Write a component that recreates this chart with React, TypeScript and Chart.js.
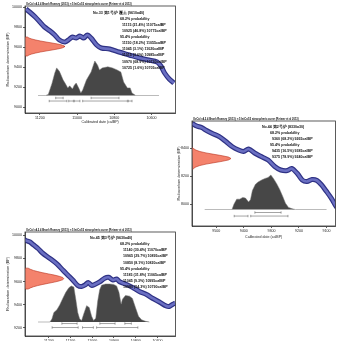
import React, { useEffect, useRef } from 'react';
import { Chart, registerables } from 'chart.js';
Chart.register(...registerables);

const TITLE = 'OxCal v4.2.4 Bronk Ramsey (2013); r:5 IntCal13 atmospheric curve (Reimer et al 2013)';
const X_TITLE = 'Calibrated date (calBP)';
const Y_TITLE = 'Radiocarbon determination (BP)';

// ---------- Panel 1 ----------
const p1XTicks = [11200, 11000, 10800, 10600];
const p1YTicks = [10000, 9800, 9600, 9400, 9200, 9000];
const p1CurveCal = [11275, 11255, 11225, 11200, 11175, 11145, 11120, 11095, 11065, 11040, 11025, 11005, 10985, 10965, 10945, 10925, 10895, 10870, 10825, 10775, 10720, 10665, 10615, 10570, 10550, 10530, 10505, 10480];
const p1CurveBP = [9980, 9950, 9900, 9850, 9800, 9760, 9720, 9670, 9650, 9680, 9700, 9690, 9710, 9690, 9720, 9690, 9620, 9590, 9580, 9550, 9520, 9490, 9470, 9450, 9410, 9340, 9280, 9240];
const p1SampleBP = [9700, 9690, 9680, 9670, 9660, 9650, 9640, 9630, 9620, 9610, 9600, 9590, 9580, 9570, 9560, 9550, 9540, 9530, 9520, 9510];
const p1SampleDensity = [0.06, 0.10, 0.17, 0.27, 0.39, 0.53, 0.68, 0.82, 0.93, 0.99, 0.99, 0.93, 0.82, 0.68, 0.53, 0.39, 0.27, 0.17, 0.10, 0.06];
const p1PostCal = [11210, 11170, 11155, 11135, 11120, 11110, 11095, 11075, 11065, 11050, 11040, 11025, 11015, 11005, 10990, 10980, 10970, 10950, 10925, 10905, 10890, 10880, 10865, 10835, 10810, 10785, 10765, 10750, 10730, 10715, 10705, 10685, 10560];
const p1PostProb = [0, 0, 0.03, 0.35, 0.65, 0.80, 0.70, 0.45, 0.36, 0.22, 0.28, 0.19, 0.30, 0.36, 0.20, 0.07, 0.16, 0.45, 0.68, 1.0, 0.88, 0.74, 0.80, 0.83, 0.80, 0.74, 0.68, 0.39, 0.22, 0.22, 0.07, 0, 0];
const p1Ranges68 = [[11115, 11075], [10925, 10775]];
const p1Ranges95 = [[11150, 11055], [11045, 11020], [11015, 10985], [10970, 10730], [10725, 10705]];
const p1Text = ['No.33 第1号炉 覆土 (9610±40)', '68.2% probability', '11115 (21.4%) 11075calBP', '10925 (46.8%) 10775calBP', '95.4% probability', '11150 (18.2%) 11055calBP', '11045 (3.1%) 11020calBP', '11015 (3.6%) 10985calBP', '10970 (68.9%) 10730calBP', '10725 (1.6%) 10705calBP'];

// ---------- Panel 2 ----------
const p2XTicks = [9500, 9400, 9300, 9200, 9100];
const p2YTicks = [8400, 8200, 8000];
const p2CurveCal = [9587, 9571, 9553, 9535, 9514, 9489, 9465, 9443, 9419, 9401, 9383, 9358, 9337, 9312, 9288, 9266, 9242, 9227, 9206, 9188, 9171, 9153, 9135, 9118, 9100, 9082, 9065, 9050];
const p2CurveBP = [8575, 8557, 8546, 8525, 8504, 8482, 8446, 8411, 8386, 8375, 8393, 8361, 8339, 8314, 8268, 8243, 8239, 8254, 8218, 8171, 8161, 8175, 8168, 8136, 8089, 8039, 7982, 7950];
const p2SampleBP = [8405, 8395, 8385, 8375, 8365, 8355, 8345, 8335, 8325, 8315, 8305, 8295, 8285, 8275, 8265, 8255, 8245];
const p2SampleDensity = [0.017, 0.044, 0.101, 0.203, 0.36, 0.563, 0.775, 0.938, 1, 0.938, 0.775, 0.563, 0.36, 0.203, 0.101, 0.044, 0.017];
const p2PostCal = [9542, 9443, 9436, 9426, 9415, 9404, 9394, 9383, 9376, 9369, 9358, 9348, 9334, 9323, 9312, 9302, 9291, 9281, 9270, 9259, 9249, 9238, 9224, 9213, 9100];
const p2PostProb = [0, 0, 0.15, 0.30, 0.30, 0.35, 0.33, 0.22, 0.28, 0.55, 0.73, 0.80, 0.86, 0.90, 0.93, 1.0, 0.88, 0.75, 0.58, 0.38, 0.18, 0.06, 0.02, 0, 0];
const p2Ranges68 = [[9360, 9265]];
const p2Ranges95 = [[9435, 9385], [9375, 9240]];
const p2Text = ['No.44 第2号炉 (8330±30)', '68.2% probability', '9360 (68.2%) 9265calBP', '95.4% probability', '9435 (16.5%) 9385calBP', '9375 (78.9%) 9240calBP'];

// ---------- Panel 3 ----------
const p3XTicks = [11200, 11100, 11000, 10900, 10800, 10700];
const p3YTicks = [10000, 9800, 9600, 9400, 9200];
const p3CurveCal = [11320, 11306, 11287, 11273, 11250, 11228, 11195, 11163, 11136, 11113, 11090, 11067, 11049, 11033, 11019, 11003, 10989, 10966, 10943, 10925, 10904, 10888, 10874, 10842, 10815, 10783, 10750, 10723, 10691, 10659, 10645, 10631, 10617];
const p3CurveBP = [9965, 9953, 9940, 9918, 9884, 9843, 9798, 9751, 9699, 9656, 9613, 9566, 9557, 9570, 9592, 9566, 9574, 9596, 9628, 9636, 9613, 9622, 9598, 9574, 9549, 9514, 9488, 9456, 9424, 9389, 9385, 9402, 9415];
const p3SampleBP = [9715, 9705, 9695, 9685, 9675, 9665, 9655, 9645, 9635, 9625, 9615, 9605, 9595, 9585, 9575, 9565, 9555, 9545, 9535];
const p3SampleDensity = [0.08, 0.14, 0.22, 0.33, 0.46, 0.61, 0.76, 0.88, 0.97, 1, 0.97, 0.88, 0.76, 0.61, 0.46, 0.33, 0.22, 0.14, 0.08];
const p3PostCal = [11250, 11195, 11186, 11177, 11163, 11150, 11136, 11122, 11108, 11097, 11085, 11076, 11067, 11058, 11049, 11039, 11026, 11014, 11003, 10994, 10984, 10975, 10966, 10957, 10939, 10920, 10902, 10888, 10877, 10867, 10861, 10847, 10828, 10815, 10801, 10787, 10773, 10755, 10737];
const p3PostProb = [0, 0, 0.08, 0.25, 0.32, 0.45, 0.62, 0.78, 0.90, 0.95, 0.92, 0.60, 0.25, 0.08, 0.04, 0.22, 0.43, 0.38, 0.15, 0.04, 0.10, 0.55, 0.85, 0.97, 1.0, 1.0, 0.99, 0.95, 0.78, 0.47, 0.60, 0.70, 0.68, 0.62, 0.38, 0.15, 0.06, 0.02, 0];
const p3Ranges68 = [[11140, 11070], [10965, 10895], [10850, 10820]];
const p3Ranges95 = [[11185, 11065], [11045, 10995], [10980, 10790]];
const p3Text = ['No.45 第3号炉 (9630±40)', '68.2% probability', '11140 (30.4%) 11070calBP', '10965 (29.7%) 10895calBP', '10850 (8.1%) 10820calBP', '95.4% probability', '11185 (31.8%) 11065calBP', '11045 (9.3%) 10995calBP', '10980 (54.3%) 10790calBP'];

const FONT = '"Liberation Sans", Arial, sans-serif';

const panels = [
  {
    key: 'p1', left: 0, top: 0, width: 180, height: 126, padTop: 6, padRight: 4, yWidth: 25, xHeight: 13,
    xMin: 10472, xMax: 11280, yMin: 8940, yMax: 10010, redMax: 3.775, probMin: -0.507, probMax: 2.594,
    b68: -0.072, b95: -0.16, yTitlePad: 5.2, xTitlePad: 1.8, showXTitle: true,
    tLabel: 68, tHead: 95, tLine: 97, tY0: 6.7, tDy: 6.1,
    xTicks: p1XTicks, yTicks: p1YTicks, curveCal: p1CurveCal, curveBP: p1CurveBP,
    sBP: p1SampleBP, sD: p1SampleDensity, pCal: p1PostCal, pProb: p1PostProb,
    r68: p1Ranges68, r95: p1Ranges95, text: p1Text,
  },
  {
    key: 'p2', left: 172, top: 115, width: 168, height: 126, padTop: 6, padRight: 1, yWidth: 20, xHeight: 15,
    xMin: 9068, xMax: 9588, yMin: 7843, yMax: 8593, redMax: 3.675, probMin: -0.478, probMax: 2.565,
    b68: -0.087, b95: -0.19, yTitlePad: 4.7, xTitlePad: 1.8, showXTitle: true,
    tLabel: 70, tHead: 78, tLine: 80, tY0: 5.5, tDy: 6,
    xTicks: p2XTicks, yTicks: p2YTicks, curveCal: p2CurveCal, curveBP: p2CurveBP,
    sBP: p2SampleBP, sD: p2SampleDensity, pCal: p2PostCal, pProb: p2PostProb,
    r68: p2Ranges68, r95: p2Ranges95, text: p2Text,
  },
  {
    key: 'p3', left: 0, top: 226, width: 180, height: 115, padTop: 6, padRight: 4, yWidth: 25, xHeight: 5,
    xMin: 10617, xMax: 11310, yMin: 9131, yMax: 10026, redMax: 3.87, probMin: -0.368, probMax: 2.368,
    b68: -0.04, b95: -0.145, yTitlePad: 5.2, xTitlePad: 1.8, showXTitle: false,
    tLabel: 65, tHead: 95, tLine: 98, tY0: 6.3, tDy: 6.05,
    xTicks: p3XTicks, yTicks: p3YTicks, curveCal: p3CurveCal, curveBP: p3CurveBP,
    sBP: p3SampleBP, sD: p3SampleDensity, pCal: p3PostCal, pProb: p3PostProb,
    r68: p3Ranges68, r95: p3Ranges95, text: p3Text,
  },
];

function makeOverlay(cfg: any) {
  return {
    id: 'overlay_' + cfg.key,
    afterDatasetsDraw(chart: any) {
      const { ctx, chartArea: a } = chart;
      ctx.save();
      ctx.fillStyle = '#111';
      ctx.font = `bold 2.6px ${FONT}`;
      ctx.textBaseline = 'bottom';
      ctx.textAlign = 'left';
      ctx.fillText(TITLE, a.left + 1, a.top - 0.6);
      ctx.textBaseline = 'middle';
      ctx.font = `bold 3.6px ${FONT}`;
      cfg.text.forEach((line: string, i: number) => {
        let dx = cfg.tLine;
        if (i === 0) dx = cfg.tLabel;
        else if (line.indexOf('probability') >= 0) dx = cfg.tHead;
        ctx.fillText(line, a.left + dx, a.top + cfg.tY0 + i * cfg.tDy);
      });
      ctx.strokeStyle = '#333';
      ctx.lineWidth = 0.8;
      ctx.strokeRect(a.left, a.top, a.right - a.left, a.bottom - a.top);
      ctx.restore();
    },
  };
}

function Panel({ cfg }: { cfg: any }) {
  const ref = useRef<HTMLCanvasElement>(null);
  useEffect(() => {
    const curve = cfg.curveCal.map((x: number, i: number) => ({ x, y: cfg.curveBP[i] }));
    const n = cfg.sBP.length;
    const red = [{ x: 0, y: cfg.sBP[0] }, ...cfg.sBP.map((y: number, i: number) => ({ x: cfg.sD[i], y })), { x: 0, y: cfg.sBP[n - 1] }];
    const post = cfg.pCal.map((x: number, i: number) => ({ x, y: cfg.pProb[i] }));
    const bracket = (r: number[], yv: number) => ({
      data: [{ x: r[0], y: yv }, { x: r[1], y: yv }],
      xAxisID: 'x', yAxisID: 'yp', borderColor: '#666', borderWidth: 0.6,
      pointStyle: 'line', pointRotation: 90, pointRadius: 1.2, pointBorderColor: '#666', pointBorderWidth: 0.6,
      fill: false, order: 4,
    });
    const datasets: any[] = [
      { data: curve, xAxisID: 'x', yAxisID: 'y', borderColor: '#6a6fc2', borderWidth: 2.6, pointRadius: 0, fill: false, order: 0, tension: 0.3 },
      { data: curve, xAxisID: 'x', yAxisID: 'y', borderColor: '#2f3285', borderWidth: 5, pointRadius: 0, fill: false, order: 1, tension: 0.3 },
      { data: red, xAxisID: 'xr', yAxisID: 'y', borderColor: '#b8321e', borderWidth: 0.6, backgroundColor: '#f4826c', pointRadius: 0, fill: 'shape', order: 2 },
      { data: post, xAxisID: 'x', yAxisID: 'yp', borderColor: '#777', borderWidth: 0.5, backgroundColor: '#474747', pointRadius: 0, fill: 'origin', order: 3 },
      ...cfg.r68.map((r: number[]) => bracket(r, cfg.b68)),
      ...cfg.r95.map((r: number[]) => bracket(r, cfg.b95)),
    ];
    const axisCommon = {
      grid: { display: true, drawOnChartArea: false, drawTicks: true, tickLength: 2, color: '#333', lineWidth: 0.8 },
      border: { display: true, color: '#333', width: 0.8 },
    };
    const chart = new Chart(ref.current as HTMLCanvasElement, {
      type: 'line',
      data: { datasets },
      options: {
        animation: false,
        responsive: false,
        devicePixelRatio: 1,
        events: [],
        layout: { padding: { top: cfg.padTop, right: cfg.padRight, left: 0, bottom: 0 } },
        plugins: { legend: { display: false }, tooltip: { enabled: false } },
        scales: {
          x: {
            type: 'linear', reverse: true, min: cfg.xMin, max: cfg.xMax, position: 'bottom',
            ...axisCommon,
            afterBuildTicks: (s: any) => { s.ticks = cfg.xTicks.map((v: number) => ({ value: v })); },
            afterFit: (s: any) => { s.height = cfg.xHeight; },
            ticks: { padding: 1, font: { size: 3.6, family: FONT }, color: '#222', autoSkip: false, maxRotation: 0, callback: (v: any) => String(v) },
            title: { display: cfg.showXTitle, text: X_TITLE, font: { size: 3.6, family: FONT }, color: '#222', padding: { top: 0, bottom: cfg.xTitlePad } },
          },
          y: {
            type: 'linear', min: cfg.yMin, max: cfg.yMax, position: 'left',
            ...axisCommon,
            afterBuildTicks: (s: any) => { s.ticks = cfg.yTicks.map((v: number) => ({ value: v })); },
            afterFit: (s: any) => { s.width = cfg.yWidth; },
            ticks: { padding: 1, font: { size: 3.6, family: FONT }, color: '#222', autoSkip: false, callback: (v: any) => String(v) },
            title: { display: true, text: Y_TITLE, font: { size: 3.8, family: FONT }, color: '#222', padding: { top: cfg.yTitlePad, bottom: 0 } },
          },
          xr: { type: 'linear', display: false, min: 0, max: cfg.redMax },
          yp: { type: 'linear', display: false, min: cfg.probMin, max: cfg.probMax },
        },
      } as any,
      plugins: [makeOverlay(cfg)],
    });
    return () => chart.destroy();
  }, []);
  return (
    <canvas
      ref={ref}
      width={cfg.width}
      height={cfg.height}
      style={{ position: 'absolute', left: cfg.left, top: cfg.top, width: cfg.width, height: cfg.height }}
    />
  );
}

export default function App() {
  return (
    <div style={{ position: 'absolute', left: 0, top: 0, width: 340, height: 341, background: '#fff', overflow: 'hidden' }}>
      {panels.map((p) => <Panel key={p.key} cfg={p} />)}
    </div>
  );
}
